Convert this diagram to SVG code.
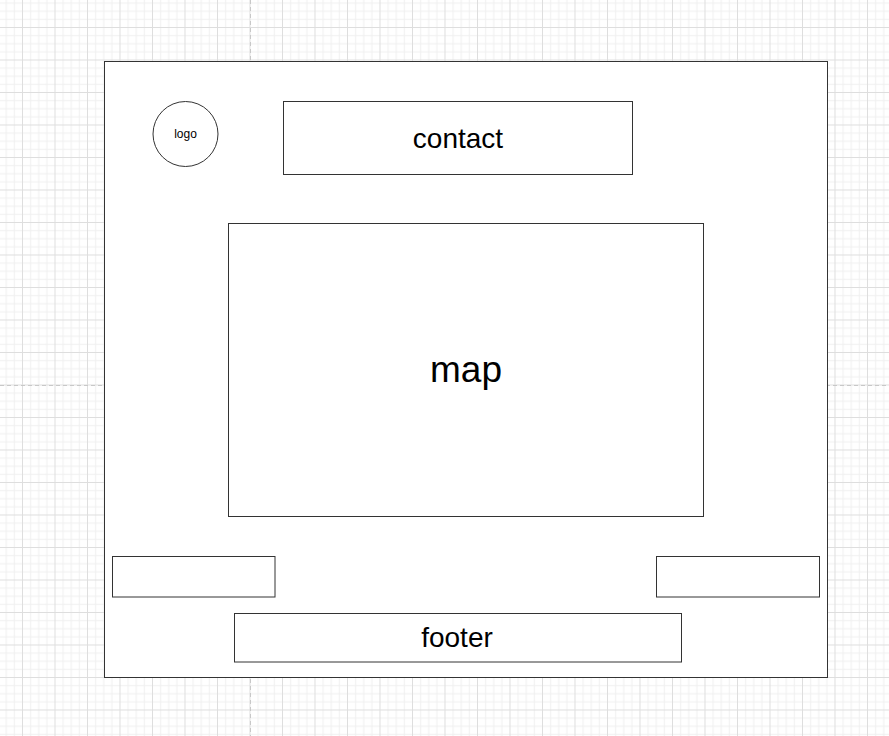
<svg xmlns="http://www.w3.org/2000/svg" width="889" height="736" viewBox="0 0 889 736">
<defs>
<pattern id="grid" width="32.5" height="32.5" patternUnits="userSpaceOnUse" x="22" y="27">
<path d="M8.625 0V32.5M16.75 0V32.5M24.875 0V32.5M0 8.625H32.5M0 16.75H32.5M0 24.875H32.5" stroke="#f0f0f0" stroke-width="1" fill="none"/>
<path d="M0.5 0V32.5M0 0.5H32.5" stroke="#dedede" stroke-width="1" fill="none"/>
</pattern>
<style>
.box{fill:#ffffff;stroke:#333333;stroke-width:1}
.t{font-family:"Liberation Sans",Arial,sans-serif;fill:#000000;text-anchor:middle}
.pg{stroke:#c8c8c8;stroke-width:1;stroke-dasharray:4 3;fill:none}
</style>
</defs>
<rect width="889" height="736" fill="#ffffff"/>
<rect width="889" height="736" fill="url(#grid)"/>
<g id="page-breaks">
<path class="pg" d="M250.5 0V736M0 385.5H889"/>
</g>
<g id="container"><rect class="box" x="104.5" y="61.5" width="723" height="616"/></g>
<g id="logo"><circle class="box" cx="185.5" cy="134" r="32.5"/><text class="t" x="185.5" y="138" font-size="12">logo</text></g>
<g id="contact"><rect class="box" x="283.5" y="101.5" width="349" height="73"/><text class="t" x="458" y="147.5" font-size="28">contact</text></g>
<g id="map"><rect class="box" x="228.5" y="223.5" width="475" height="293"/><text class="t" x="466" y="381.5" font-size="37">map</text></g>
<g id="left-box"><rect class="box" x="112.5" y="556.5" width="162.5" height="40.5"/></g>
<g id="right-box"><rect class="box" x="656.5" y="556.5" width="163" height="40.5"/></g>
<g id="footer"><rect class="box" x="234.5" y="613.5" width="447" height="48.5"/><text class="t" x="457" y="646.5" font-size="28">footer</text></g>
<g id="connectors"></g>
</svg>
